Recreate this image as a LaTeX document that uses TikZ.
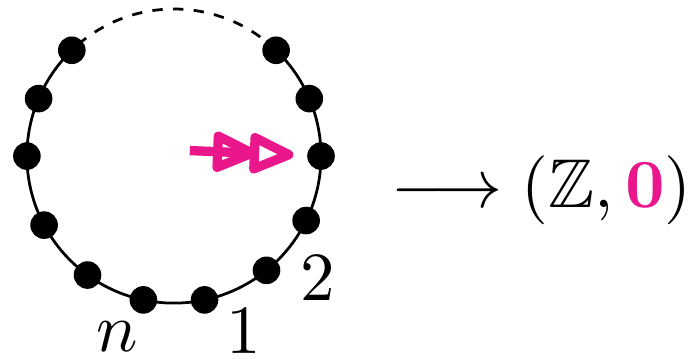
\documentclass[tikz,border=0pt]{standalone}
\usepackage{amsmath, amssymb}
\usepackage{xcolor}
\usetikzlibrary{positioning,arrows.meta}
\definecolor{HotPink}{RGB}{233,22,140}

\begin{document}
\begin{tikzpicture}[
  dot/.style={circle, fill=black, inner sep=0pt, minimum size=4pt},
  lbl/.style={inner sep=0pt},
  pinkarrow/.style={HotPink, line width=1.35pt, shorten >=1.8pt,
    -{Triangle[open, length=7.4pt, width=6.2pt, round, sep=-1pt]Triangle[open, length=7.4pt, width=6.2pt, round]}}
]
  \useasboundingbox (-0.886,-1.029) rectangle (2.618,0.795);
  \def\rad{0.749}
  % the loop, solid below and dashed over the top
  \draw (46:\rad) arc[start angle=46, end angle=-226, radius=\rad];
  \draw[dash pattern=on 1.5pt off 1.5pt] (46:\rad) arc[start angle=46, end angle=134, radius=\rad];
  \foreach \a [count=\i] in {0,23,46,134,157,180,-152,-126,-102,-78,-51,-26}
    \node[dot] (d\i) at (\a:\rad) {};

  \node[lbl] (ln) at (-0.290,-0.918) {$n$};
  \node[lbl] (lone) at (0.354,-0.893) {$1$};
  \node[lbl] (ltwo) at (0.731,-0.621) {$2$};

  \coordinate (s) at (0.081,0.028);
  \draw[pinkarrow] (s) -- (d1);

  \node[lbl, anchor=base west] (res) at (1.10,-0.26)
    {$\longrightarrow (\mathbb{Z}, \textcolor{HotPink}{\mathbf{0}})$};
\end{tikzpicture}
\end{document}
